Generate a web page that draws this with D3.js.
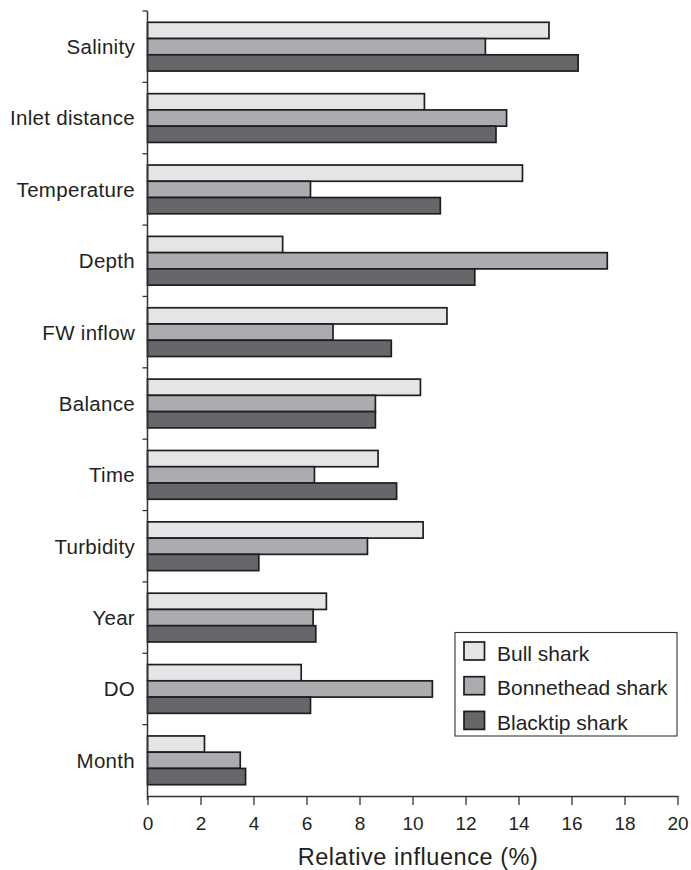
<!DOCTYPE html>
<html>
<head>
<meta charset="utf-8">
<script src="https://cdn.jsdelivr.net/npm/d3@7"></script>
<style>
  html, body { margin: 0; padding: 0; background: #fff; }
  svg { display: block; }
  text { font-family: "Liberation Sans", Arial, Helvetica, sans-serif; fill: #231f20; }
</style>
</head>
<body>
<svg id="chart" width="691" height="870"></svg>
<script>
const categories = ["Salinity", "Inlet distance", "Temperature", "Depth", "FW inflow", "Balance", "Time", "Turbidity", "Year", "DO", "Month"];
const seriesNames = ["Bull shark", "Bonnethead shark", "Blacktip shark"];
const bullShark = [15.15, 10.45, 14.15, 5.1, 11.3, 10.3, 8.7, 10.4, 6.75, 5.8, 2.15];
const bonnetheadShark = [12.75, 13.55, 6.15, 17.35, 7.0, 8.6, 6.3, 8.3, 6.25, 10.75, 3.5];
const blacktipShark = [16.25, 13.15, 11.05, 12.35, 9.2, 8.6, 9.4, 4.2, 6.35, 6.15, 3.7];
const xTicks = [0, 2, 4, 6, 8, 10, 12, 14, 16, 18, 20];
const xTitle = "Relative influence (%)";

const seriesValues = [bullShark, bonnetheadShark, blacktipShark];
const colors = ["#e4e5e7", "#abacaf", "#67666b"];
const strokeCol = "#1e1e1e";

const svg = d3.select("#chart");

const x = d3.scaleLinear().domain([0, 20]).range([147.5, 677.5]);
const y = d3.scaleBand().domain(categories).range([11, 796]).paddingInner(0).paddingOuter(0);
const y1 = d3.scaleBand().domain(seriesNames).range([0, y.bandwidth()]).paddingInner(0).paddingOuter(0.695);

const rows = categories.map((c, i) => ({
  cat: c,
  vals: seriesNames.map((s, j) => ({ s, j, v: seriesValues[j][i] }))
}));

// bars
const g = svg.append("g");
g.selectAll("g.cat")
  .data(rows)
  .join("g")
  .attr("class", "cat")
  .attr("transform", d => `translate(0,${y(d.cat)})`)
  .selectAll("rect")
  .data(d => d.vals)
  .join("rect")
  .attr("x", x(0))
  .attr("y", d => y1(d.s))
  .attr("width", d => x(d.v) - x(0))
  .attr("height", y1.bandwidth())
  .attr("fill", d => colors[d.j])
  .attr("stroke", strokeCol)
  .attr("stroke-width", 1.7);

// y axis line with boundary ticks
const boundaries = categories.map(c => y(c)).concat([796]);
svg.append("line")
  .attr("x1", x(0)).attr("x2", x(0))
  .attr("y1", 11).attr("y2", 800)
  .attr("stroke", "#333").attr("stroke-width", 1.5);
svg.selectAll("line.ytick")
  .data(boundaries.slice(0, -1))
  .join("line")
  .attr("class", "ytick")
  .attr("x1", x(0) - 5).attr("x2", x(0))
  .attr("y1", d => d).attr("y2", d => d)
  .attr("stroke", "#333").attr("stroke-width", 1.3);

// category labels
svg.selectAll("text.cat")
  .data(categories)
  .join("text")
  .attr("class", "cat")
  .attr("x", 135)
  .attr("y", d => y(d) + y.bandwidth() / 2)
  .attr("dy", "0.36em")
  .attr("text-anchor", "end")
  .attr("font-size", "20.5px")
  .attr("letter-spacing", "0.3px")
  .text(d => d);

// x axis
const xAxis = d3.axisBottom(x).tickValues(xTicks).tickSize(9).tickSizeOuter(0).tickPadding(8).tickFormat(d3.format("d"));
const xa = svg.append("g").attr("transform", "translate(0,796)").call(xAxis);
xa.select(".domain").attr("stroke", "#333").attr("stroke-width", 1.5);
xa.selectAll(".tick line").attr("stroke", "#333").attr("stroke-width", 1.3);
xa.selectAll(".tick text")
  .attr("font-size", "19px")
  .attr("font-family", "'Liberation Sans', Arial, sans-serif")
  .attr("fill", "#231f20")
  .attr("y", 34)
  .attr("dy", 0);

// x title
svg.append("text")
  .attr("x", 418)
  .attr("y", 865)
  .attr("text-anchor", "middle")
  .attr("font-size", "23.5px")
  .attr("letter-spacing", "0.55px")
  .text(xTitle);

// legend
const lg = svg.append("g");
lg.append("rect")
  .attr("x", 455).attr("y", 632.5)
  .attr("width", 222).attr("height", 103.5)
  .attr("fill", "#fff").attr("stroke", "#333").attr("stroke-width", 1.1);
const li = lg.selectAll("g.li")
  .data(seriesNames)
  .join("g")
  .attr("class", "li")
  .attr("transform", (d, i) => `translate(0,${i * 34.7})`);
li.append("rect")
  .attr("x", 464).attr("y", 642)
  .attr("width", 20.5).attr("height", 18)
  .attr("fill", (d, i) => colors[i])
  .attr("stroke", strokeCol).attr("stroke-width", 1.7);
li.append("text")
  .attr("x", 497)
  .attr("y", 660.5)
  .attr("font-size", "21px")
  .text(d => d);
</script>
</body>
</html>
